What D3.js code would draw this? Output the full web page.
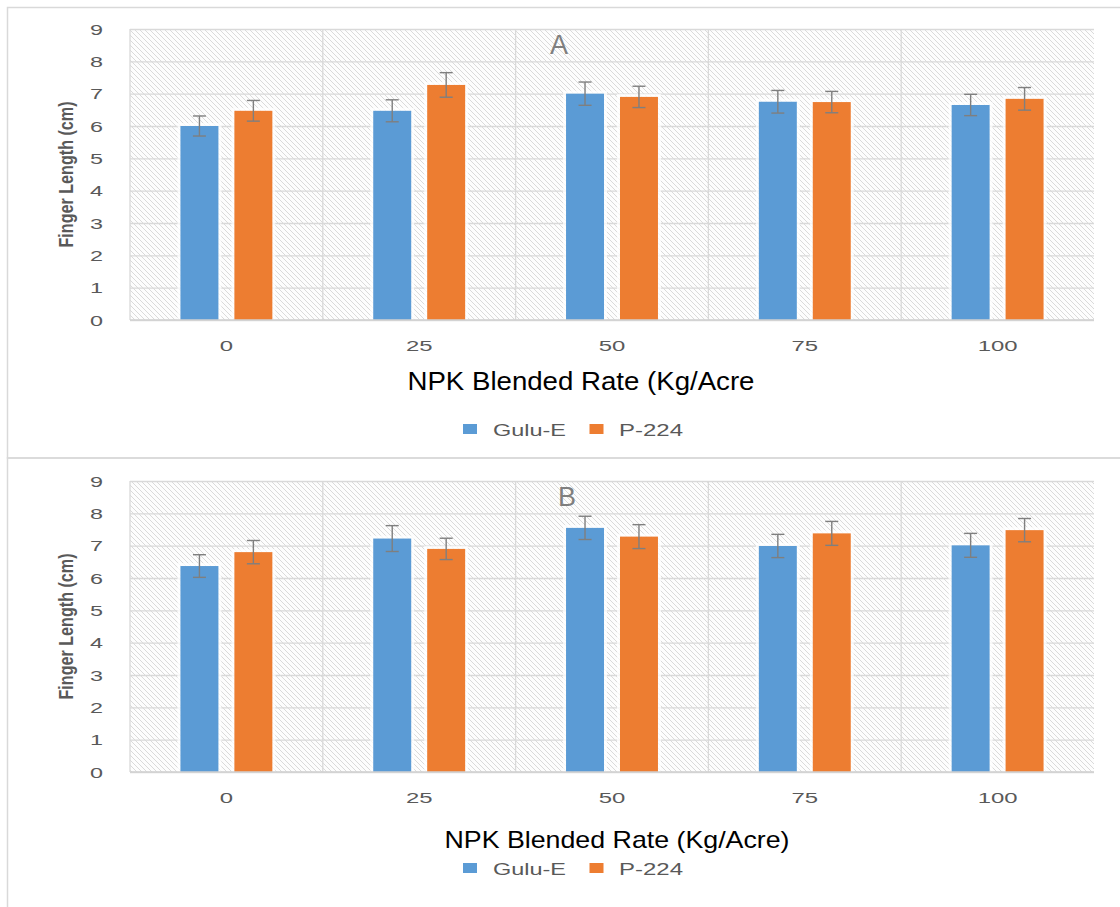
<!DOCTYPE html>
<html>
<head>
<meta charset="utf-8">
<script src="https://cdn.jsdelivr.net/npm/d3@7"></script>
<style>
  html, body { margin: 0; padding: 0; background: #fff; }
  svg { display: block; }
</style>
</head>
<body>
<svg id="chart" width="1120" height="907"></svg>
<script>
// ---------- data ----------
const categories = ["0", "25", "50", "75", "100"];
const seriesNames = ["Gulu-E", "P-224"];
const yTicks = [0, 1, 2, 3, 4, 5, 6, 7, 8, 9];

const gulueA = [6.00, 6.47, 7.00, 6.75, 6.65];
const gulueErrA = [0.31, 0.34, 0.36, 0.35, 0.33];
const p224A = [6.47, 7.27, 6.90, 6.74, 6.84];
const p224ErrA = [0.32, 0.38, 0.33, 0.33, 0.35];

const gulueB = [6.37, 7.22, 7.55, 6.99, 7.01];
const gulueErrB = [0.35, 0.40, 0.36, 0.36, 0.37];
const p224B = [6.80, 6.90, 7.28, 7.38, 7.48];
const p224ErrB = [0.36, 0.33, 0.37, 0.37, 0.36];

const panels = [
  { label: "A", title: "NPK Blended Rate (Kg/Acre", values: [gulueA, p224A], errs: [gulueErrA, p224ErrA] },
  { label: "B", title: "NPK Blended Rate (Kg/Acre)", values: [gulueB, p224B], errs: [gulueErrB, p224ErrB] }
];

// ---------- layout ----------
const colors = { "Gulu-E": "#5b9bd5", "P-224": "#ed7d31" };
const layouts = [
  { top: 7, plotTop: 29, plotBottom: 320, labelX: 559, labelY: 54, titleX: 581, titleY: 390, titleLen: 347, titleSize: 26, legendY: 429, boxH: 450.5 },
  { top: 457.5, plotTop: 481, plotBottom: 772, labelX: 567, labelY: 506, titleX: 617, titleY: 848, titleLen: 345, titleSize: 24, legendY: 868, boxH: 470 }
];
const plotLeft = 130, plotRight = 1094;

const svg = d3.select("#chart");
const defs = svg.append("defs");
const pat = defs.append("pattern")
  .attr("id", "hatch")
  .attr("patternUnits", "userSpaceOnUse")
  .attr("width", 5).attr("height", 5);
pat.append("rect").attr("width", 5).attr("height", 5).attr("fill", "#fdfdfd");
pat.append("path")
  .attr("d", "M-1,-1 L6,6 M-1,4 L1,6 M4,-1 L6,1")
  .attr("stroke", "#d6d6d6").attr("stroke-width", 0.9).attr("fill", "none");

const fontTick = "'Liberation Sans', Arial, sans-serif";

panels.forEach((p, pi) => {
  const L = layouts[pi];
  const g = svg.append("g");

  // panel border
  g.append("rect")
    .attr("x", 7.5).attr("y", L.top + 0.5)
    .attr("width", 1130).attr("height", L.boxH)
    .attr("fill", "none").attr("stroke", "#d9d9d9").attr("stroke-width", 1.5);

  const x = d3.scaleBand().domain(categories).range([plotLeft, plotRight]).paddingInner(0).paddingOuter(0);
  const xs = d3.scaleBand().domain(seriesNames).range([0, x.bandwidth()]).paddingInner(0.296).paddingOuter(0.935);
  const y = d3.scaleLinear().domain([0, 9]).range([L.plotBottom, L.plotTop]);

  // plot background
  g.append("rect")
    .attr("x", plotLeft).attr("y", L.plotTop)
    .attr("width", plotRight - plotLeft).attr("height", L.plotBottom - L.plotTop)
    .attr("fill", "url(#hatch)");

  // horizontal gridlines
  const yAxis = d3.axisLeft(y).tickValues(yTicks).tickSize(-(plotRight - plotLeft)).tickFormat("");
  const ga = g.append("g").attr("transform", `translate(${plotLeft},0)`).call(yAxis);
  ga.select(".domain").remove();
  ga.selectAll(".tick line").attr("stroke", "#d9d9d9").attr("stroke-width", 1.3);

  // vertical gridlines at category boundaries
  g.selectAll(".vgrid").data(categories).enter().append("line")
    .attr("x1", d => x(d)).attr("x2", d => x(d))
    .attr("y1", L.plotTop).attr("y2", L.plotBottom)
    .attr("stroke", "#d9d9d9").attr("stroke-width", 1.3);

  // y tick labels
  g.selectAll(".ylab").data(yTicks).enter().append("text")
    .attr("x", 103).attr("y", d => y(d) + 5.5)
    .attr("text-anchor", "end")
    .attr("font-family", fontTick).attr("font-size", 15.5)
    .attr("fill", "#595959")
    .attr("textLength", 13).attr("lengthAdjust", "spacingAndGlyphs")
    .text(d => d);

  // x tick labels
  g.selectAll(".xlab").data(categories).enter().append("text")
    .attr("x", d => x(d) + x.bandwidth() / 2).attr("y", L.plotBottom + 31)
    .attr("text-anchor", "middle")
    .attr("font-family", fontTick).attr("font-size", 15.5)
    .attr("fill", "#595959")
    .attr("textLength", d => d.length * 13.3).attr("lengthAdjust", "spacingAndGlyphs")
    .text(d => d);

  // bars
  const barData = [];
  categories.forEach((c, ci) => {
    seriesNames.forEach((s, si) => {
      barData.push({ c, s, v: p.values[si][ci], e: p.errs[si][ci] });
    });
  });

  g.selectAll(".halo").data(barData).enter().append("rect")
    .attr("x", d => x(d.c) + xs(d.s) - 3)
    .attr("y", d => y(d.v) - 3)
    .attr("width", xs.bandwidth() + 6)
    .attr("height", d => y(0) - y(d.v) + 3)
    .attr("fill", "#ffffff").attr("opacity", 0.75);

  g.selectAll(".bar").data(barData).enter().append("rect")
    .attr("x", d => x(d.c) + xs(d.s))
    .attr("y", d => y(d.v))
    .attr("width", xs.bandwidth())
    .attr("height", d => y(0) - y(d.v))
    .attr("fill", d => colors[d.s]);

  // bottom axis line
  g.append("line")
    .attr("x1", plotLeft).attr("x2", plotRight)
    .attr("y1", y(0)).attr("y2", y(0))
    .attr("stroke", "#d0d0d0").attr("stroke-width", 1.3);

  // error bars
  const eb = g.selectAll(".err").data(barData).enter().append("g")
    .attr("stroke", "#7f7f7f").attr("stroke-width", 1.4);
  const cx = d => x(d.c) + xs(d.s) + xs.bandwidth() / 2;
  eb.append("line")
    .attr("x1", cx).attr("x2", cx)
    .attr("y1", d => y(d.v + d.e)).attr("y2", d => y(d.v - d.e));
  eb.append("line")
    .attr("x1", d => cx(d) - 6.5).attr("x2", d => cx(d) + 6.5)
    .attr("y1", d => y(d.v + d.e)).attr("y2", d => y(d.v + d.e));
  eb.append("line")
    .attr("x1", d => cx(d) - 6.5).attr("x2", d => cx(d) + 6.5)
    .attr("y1", d => y(d.v - d.e)).attr("y2", d => y(d.v - d.e));

  // panel label
  g.append("text")
    .attr("x", L.labelX).attr("y", L.labelY)
    .attr("text-anchor", "middle")
    .attr("font-family", fontTick).attr("font-size", 27)
    .attr("fill", "#7f7f7f")
    .text(p.label);

  // y axis title
  const cy = (L.plotTop + L.plotBottom) / 2;
  g.append("text")
    .attr("transform", `translate(73,${cy}) rotate(-90)`)
    .attr("text-anchor", "middle")
    .attr("font-family", fontTick).attr("font-size", 20).attr("font-weight", "bold")
    .attr("fill", "#595959")
    .attr("textLength", 146).attr("lengthAdjust", "spacingAndGlyphs")
    .text("Finger Length (cm)");

  // x axis title
  g.append("text")
    .attr("x", L.titleX).attr("y", L.titleY)
    .attr("text-anchor", "middle")
    .attr("font-family", fontTick).attr("font-size", L.titleSize)
    .attr("fill", "#000")
    .attr("textLength", L.titleLen).attr("lengthAdjust", "spacingAndGlyphs")
    .text(p.title);

  // legend
  const legendItems = [
    { s: "Gulu-E", sx: 463, tx: 493, tl: 73 },
    { s: "P-224", sx: 589.5, tx: 619, tl: 64 }
  ];
  const lg = g.append("g");
  lg.selectAll("rect").data(legendItems).enter().append("rect")
    .attr("x", d => d.sx).attr("y", L.legendY - 5)
    .attr("width", 14).attr("height", 10)
    .attr("fill", d => colors[d.s]);
  lg.selectAll("text").data(legendItems).enter().append("text")
    .attr("x", d => d.tx).attr("y", L.legendY + 6.5)
    .attr("font-family", fontTick).attr("font-size", 17)
    .attr("fill", "#595959")
    .attr("textLength", d => d.tl).attr("lengthAdjust", "spacingAndGlyphs")
    .text(d => d.s);
});
</script>
</body>
</html>
